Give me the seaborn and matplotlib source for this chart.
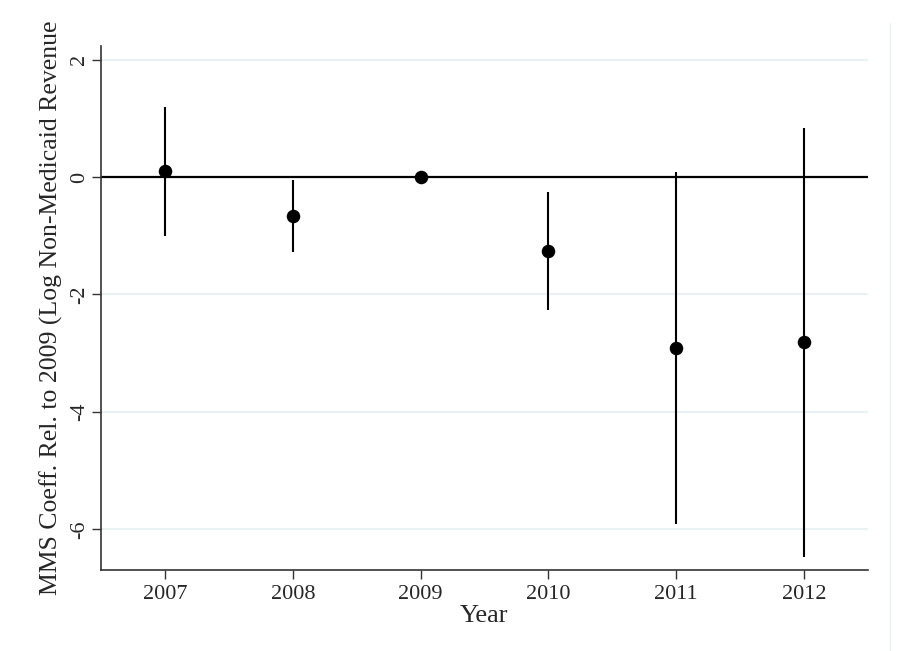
import matplotlib
matplotlib.use("Agg")
import matplotlib.pyplot as plt
import seaborn as sns
import pandas as pd
from matplotlib.lines import Line2D

years = [2007, 2008, 2009, 2010, 2011, 2012]
coef = [0.10, -0.66, 0.0, -1.26, -2.91, -2.81]
ci_low = [-1.00, -1.28, 0.0, -2.26, -5.90, -6.47]
ci_high = [1.19, -0.05, 0.0, -0.26, 0.085, 0.83]
y_ticks = [2, 0, -2, -4, -6]

df = pd.DataFrame({"year": years, "coef": coef, "lo": ci_low, "hi": ci_high})

sns.set_theme(style="white")
plt.rcParams["font.family"] = ["Liberation Serif", "DejaVu Serif"]

fig = plt.figure(figsize=(8.99, 6.51), dpi=100)
ax = fig.add_axes([101/899, 1-570/651, (868-101)/899, (570-46)/651])

for y in y_ticks:
    if y != 0:
        ax.axhline(y, color="#eaf1f3", lw=1.5, zorder=0)
ax.axhline(0, color="black", lw=1.6, zorder=1)

ci = df[df["lo"] != df["hi"]]
ax.vlines(ci["year"], ci["lo"], ci["hi"], color="black", lw=1.5, zorder=2)
sns.scatterplot(data=df, x="year", y="coef", ax=ax, color="black", s=95,
                edgecolor="black", linewidth=0, zorder=3)

ax.set_xlim(2006.5, 2012.5)
ax.set_ylim(-6.69, 2.23)
ax.set_xticks(years)
ax.set_xticklabels([str(y) for y in years], fontsize=16)
ax.set_yticks(y_ticks)
ax.set_yticklabels([str(y) for y in y_ticks], fontsize=16, rotation=90, va="center")
ax.tick_params(axis="both", which="both", length=6.5, width=1, color="#333333",
               direction="out", bottom=True, left=True)
ax.tick_params(axis="y", pad=2)
ax.tick_params(axis="x", pad=4)
for s in ["top", "right"]:
    ax.spines[s].set_visible(False)
for s in ["left", "bottom"]:
    ax.spines[s].set_color("#333333")
    ax.spines[s].set_linewidth(1.2)

ax.set_xlabel("Year", fontsize=19, labelpad=1)
ax.set_ylabel("MMS Coeff. Rel. to 2009 (Log Non-Medicaid Revenue", fontsize=18.5, labelpad=5)

fig.add_artist(Line2D([890/899, 890/899], [0, 1-23/651], transform=fig.transFigure,
                      color="#eef2f4", lw=1))

fig.savefig("out.png", dpi=100, facecolor="white")
